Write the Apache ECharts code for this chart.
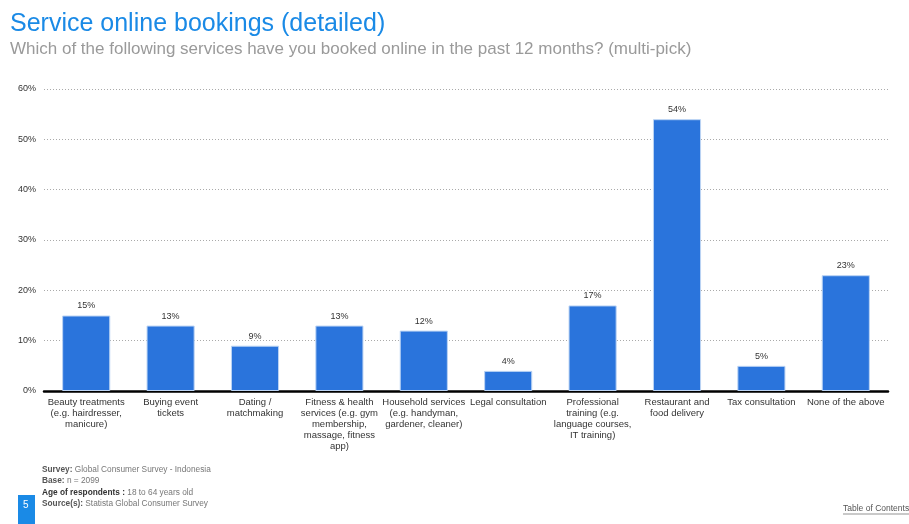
<!DOCTYPE html>
<html>
<head>
<meta charset="utf-8">
<script src="https://cdn.jsdelivr.net/npm/echarts@6/dist/echarts.min.js"></script>
<style>
  html, body { margin: 0; padding: 0; background: #fff; }
  #chart { width: 909px; height: 524px; }
</style>
</head>
<body>
<div id="chart"></div>
<script>
// categories as shown under the bars (line breaks copied from the slide)
var categories = [
    'Beauty treatments\n(e.g. hairdresser,\nmanicure)',
    'Buying event\ntickets',
    'Dating /\nmatchmaking',
    'Fitness & health\nservices (e.g. gym\nmembership,\nmassage, fitness\napp)',
    'Household services\n(e.g. handyman,\ngardener, cleaner)',
    'Legal consultation',
    'Professional\ntraining (e.g.\nlanguage courses,\nIT training)',
    'Restaurant and\nfood delivery',
    'Tax consultation',
    'None of the above'
];
var shares = [15, 13, 9, 13, 12, 4, 17, 54, 5, 23];
var yTicks = [0, 10, 20, 30, 40, 50, 60];

var font = 'Liberation Sans, Arial, sans-serif';

var chart = echarts.init(document.getElementById('chart'));
var option = {
    animation: false,
    textStyle: { fontFamily: font },
    title: {
        text: 'Service online bookings (detailed)',
        subtext: 'Which of the following services have you booked online in the past 12 months? (multi-pick)',
        left: 5,
        top: 7,
        itemGap: 4,
        textStyle: { color: '#1a8ae6', fontSize: 25, fontWeight: 'normal', fontFamily: font },
        subtextStyle: { color: '#9a9a9a', fontSize: 17, fontFamily: font }
    },
    grid: { left: 44, right: 21, top: 89, bottom: 133 },
    xAxis: {
        type: 'category',
        data: categories,
        axisTick: { show: false },
        axisLine: { lineStyle: { color: '#000', width: 2.5 } },
        axisLabel: {
            interval: 0,
            color: '#333',
            fontSize: 9.5,
            lineHeight: 11,
            margin: 6
        }
    },
    yAxis: {
        type: 'value',
        min: yTicks[0],
        max: yTicks[yTicks.length - 1],
        interval: 10,
        axisLine: { show: false },
        axisTick: { show: false },
        axisLabel: { color: '#333', fontSize: 9, margin: 8, formatter: '{value}%' },
        splitLine: { lineStyle: { color: '#aaa', type: [1, 2], width: 1 } }
    },
    series: [{
        type: 'bar',
        data: shares,
        barCategoryGap: '43%',
        itemStyle: { color: '#2a74dc', borderColor: '#bcd4f4', borderWidth: 1 },
        label: {
            show: true,
            position: 'top',
            distance: 5,
            color: '#333',
            fontSize: 9,
            formatter: '{c}%'
        }
    }],
    graphic: [
        {
            type: 'rect',
            left: 18, top: 495,
            shape: { width: 17, height: 29 },
            style: { fill: '#1a8ae6' }
        },
        {
            type: 'text',
            left: 23, top: 500,
            style: { text: '5', fill: '#fff', fontSize: 10, fontFamily: font }
        },
        {
            type: 'text',
            left: 42, top: 464,
            style: {
                text: '{b|Survey:} Global Consumer Survey - Indonesia\n{b|Base:} n = 2099\n{d|Age of respondents :} 18 to 64 years old\n{b|Source(s):} Statista Global Consumer Survey',
                fill: '#777',
                fontSize: 8.3,
                lineHeight: 11.3,
                fontFamily: font,
                rich: {
                    b: { fontWeight: 'bold', fill: '#555', fontSize: 8.3, fontFamily: font },
                    d: { fontWeight: 'bold', fill: '#333', fontSize: 8.3, fontFamily: font }
                }
            }
        },
        {
            type: 'text',
            left: 843, top: 504,
            style: { text: 'Table of Contents', fill: '#555', fontSize: 8.5, fontFamily: font }
        },
        {
            type: 'line',
            shape: { x1: 843, y1: 514, x2: 909, y2: 514 },
            style: { stroke: '#666', lineWidth: 0.7 }
        }
    ]
};
chart.setOption(option);
</script>
</body>
</html>
